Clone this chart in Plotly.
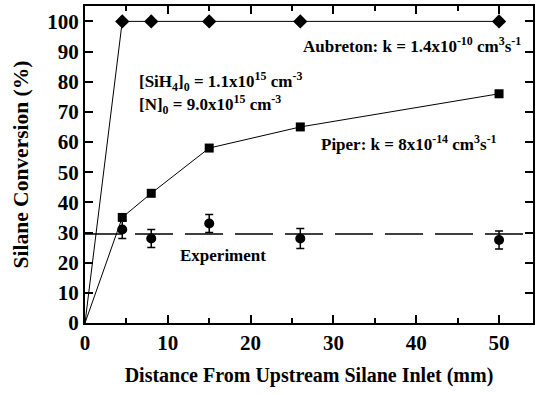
import plotly.graph_objects as go

# Distance from upstream silane inlet (mm); the models start from the inlet (0, 0)
distance_model = [0, 4.5, 8, 15, 26, 50]
aubreton_conv = [0, 100, 100, 100, 100, 100]
piper_conv = [0, 35, 43, 58, 65, 76]

distance_exp = [4.5, 8, 15, 26, 50]
experiment_conv = [31, 28, 33, 28, 27.5]
experiment_err = [3, 3, 3, 3.3, 3]
experiment_mean = 29.5

x_ticks = [0, 10, 20, 30, 40, 50]
y_ticks = [0, 10, 20, 30, 40, 50, 60, 70, 80, 90, 100]

FONT = "Liberation Serif"
fig = go.Figure()

# mean experimental conversion
fig.add_trace(go.Scatter(
    x=[0, 54.2], y=[experiment_mean, experiment_mean], mode="lines",
    line=dict(color="black", width=1.3, dash="38px,12px"),
    showlegend=False, hoverinfo="skip"))

# model curves: connecting line from the inlet, markers at computed stations
for conv, symbol, size in [(aubreton_conv, "diamond", 11), (piper_conv, "square", 9)]:
    fig.add_trace(go.Scatter(
        x=distance_model, y=conv, mode="lines",
        line=dict(color="#000000", width=1), showlegend=False))
    fig.add_trace(go.Scatter(
        x=distance_model[1:], y=conv[1:], mode="markers",
        marker=dict(symbol=symbol, size=size, color="#000000",
                    line=dict(width=0), opacity=1),
        showlegend=False))

fig.add_trace(go.Scatter(
    x=distance_exp, y=experiment_conv, mode="markers",
    marker=dict(symbol="circle", size=10, color="black"),
    error_y=dict(type="data", array=experiment_err, color="black",
                 thickness=1.5, width=4),
    showlegend=False))

ann_font = dict(family=FONT, size=17, color="black")
annotations = [
    dict(x=52.9, y=92.3, xanchor="right",
         text="<b>Aubreton: k = 1.4x10<sup>-10</sup> cm<sup>3</sup>s<sup>-1</sup></b>"),
    dict(x=6.3, y=80.1, xanchor="left",
         text="<b>[SiH<sub>4</sub>]<sub>0</sub> = 1.1x10<sup>15</sup> cm<sup>-3</sup></b>"),
    dict(x=6.3, y=72.5, xanchor="left",
         text="<b>[N]<sub>0</sub> = 9.0x10<sup>15</sup> cm<sup>-3</sup></b>"),
    dict(x=28.3, y=59.7, xanchor="left",
         text="<b>Piper: k = 8x10<sup>-14</sup> cm<sup>3</sup>s<sup>-1</sup></b>"),
    dict(x=11.2, y=22.4, xanchor="left", text="<b>Experiment</b>"),
]
for a in annotations:
    fig.add_annotation(xref="x", yref="y", showarrow=False, yanchor="middle",
                       font=ann_font, **a)

axis_common = dict(showline=True, linecolor="black", linewidth=2, mirror="allticks",
                   ticks="inside", tickcolor="black", tickwidth=2, ticklen=8,
                   showgrid=False, zeroline=False,
                   tickfont=dict(family=FONT, size=21, color="black"))

fig.update_xaxes(range=[0, 54.1], tickvals=x_ticks,
                 ticktext=[f"<b>{v}</b>" for v in x_ticks],
                 minor=dict(dtick=5, tick0=0, ticks="inside", ticklen=5,
                            tickcolor="black", tickwidth=2),
                 title=dict(text="<b>Distance From Upstream Silane Inlet (mm)</b>",
                            font=dict(family=FONT, size=20, color="black"), standoff=14),
                 **axis_common)
fig.update_yaxes(range=[0, 105.1], tickvals=y_ticks,
                 ticktext=[f"<b>{v}</b>" for v in y_ticks],
                 title=dict(text="<b>Silane Conversion (%)</b>",
                            font=dict(family=FONT, size=21.5, color="black"), standoff=13),
                 **axis_common)

fig.update_layout(width=542, height=395, margin=dict(l=85, r=9, t=4, b=72),
                  plot_bgcolor="white", paper_bgcolor="white")

fig.write_html("out.html")
